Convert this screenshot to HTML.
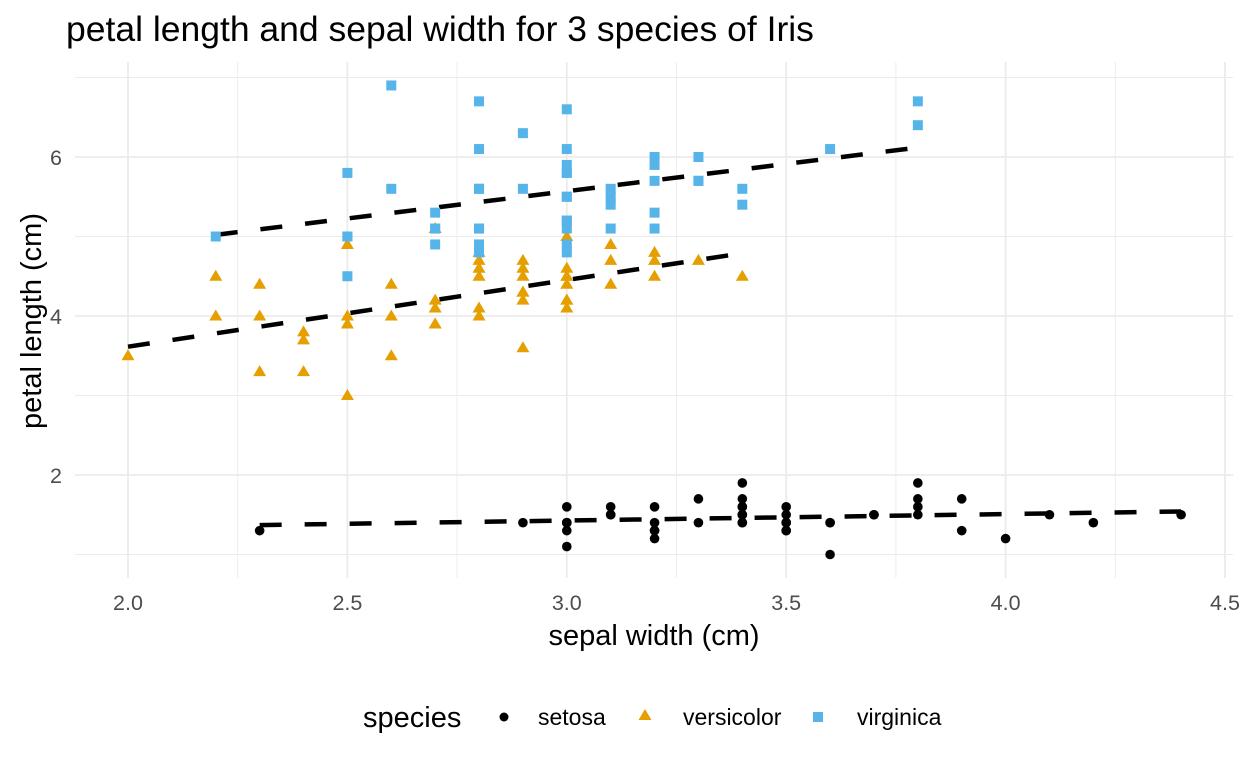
<!DOCTYPE html>
<html><head><meta charset="utf-8"><style>
body{margin:0;background:#fff;}
svg{display:block;font-family:"Liberation Sans",Arial,sans-serif;}
</style></head><body>
<svg id="chart" width="1248" height="768">
<rect width="1248" height="768" fill="#fff"/>
<text x="66" y="41" font-size="35.5" fill="#000">petal length and sepal width for 3 species of Iris</text>
<g id="grid"></g>
<g id="lines"></g>
<g id="points"></g>
<g id="axes"></g>
<text x="654" y="645" font-size="29" text-anchor="middle" fill="#000">sepal width (cm)</text>
<text transform="translate(41,321) rotate(-90)" font-size="29" text-anchor="middle" fill="#000">petal length (cm)</text>
<g>
<text x="363" y="727" font-size="29" fill="#000">species</text>
<g>
<circle cx="504" cy="717" r="4.5" fill="#000"/>
<text x="538" y="725" font-size="23" fill="#000">setosa</text></g>
<g>
<polygon points="645,709 651.5,720 638.5,720" fill="#E69F00"/>
<text x="683" y="725" font-size="23" fill="#000">versicolor</text></g>
<g>
<rect x="813" y="712" width="10" height="10" fill="#56B4E9"/>
<text x="857" y="725" font-size="23" fill="#000">virginica</text></g>
</g>
</svg>
<script>
const setosaX=[3.5,3.0,3.2,3.1,3.6,3.9,3.4,3.4,2.9,3.1,3.7,3.4,3.0,3.0,4.0,4.4,3.9,3.5,3.8,3.8,3.4,3.7,3.6,3.3,3.4,3.0,3.4,3.5,3.4,3.2,3.1,3.4,4.1,4.2,3.1,3.2,3.5,3.6,3.0,3.4,3.5,2.3,3.2,3.5,3.8,3.0,3.8,3.2,3.7,3.3];
const setosaY=[1.4,1.4,1.3,1.5,1.4,1.7,1.4,1.5,1.4,1.5,1.5,1.6,1.4,1.1,1.2,1.5,1.3,1.4,1.7,1.5,1.7,1.5,1.0,1.7,1.9,1.6,1.6,1.5,1.4,1.6,1.6,1.5,1.5,1.4,1.5,1.2,1.3,1.4,1.3,1.5,1.3,1.3,1.3,1.6,1.9,1.4,1.6,1.4,1.5,1.4];
const versicolorX=[3.2,3.2,3.1,2.3,2.8,2.8,3.3,2.4,2.9,2.7,2.0,3.0,2.2,2.9,2.9,3.1,3.0,2.7,2.2,2.5,3.2,2.8,2.5,2.8,2.9,3.0,2.8,3.0,2.9,2.6,2.4,2.4,2.7,2.7,3.0,3.4,3.1,2.3,3.0,2.5,2.6,3.0,2.6,2.3,2.7,3.0,2.9,2.9,2.5,2.8];
const versicolorY=[4.7,4.5,4.9,4.0,4.6,4.5,4.7,3.3,4.6,3.9,3.5,4.2,4.0,4.7,3.6,4.4,4.5,4.1,4.5,3.9,4.8,4.0,4.9,4.7,4.3,4.4,4.8,5.0,4.5,3.5,3.8,3.7,3.9,5.1,4.5,4.5,4.7,4.4,4.1,4.0,4.4,4.6,4.0,3.3,4.2,4.2,4.2,4.3,3.0,4.1];
const virginicaX=[3.3,2.7,3.0,2.9,3.0,3.0,2.5,2.9,2.5,3.6,3.2,2.7,3.0,2.5,2.8,3.2,3.0,3.8,2.6,2.2,3.2,2.8,2.8,2.7,3.3,3.2,2.8,3.0,2.8,3.0,2.8,3.8,2.8,2.8,2.6,3.0,3.4,3.1,3.0,3.1,3.1,3.1,2.7,3.2,3.3,3.0,2.5,3.0,3.4,3.0];
const virginicaY=[6.0,5.1,5.9,5.6,5.8,6.6,4.5,6.3,5.8,6.1,5.1,5.3,5.5,5.0,5.1,5.3,5.5,6.7,6.9,5.0,5.7,4.9,6.7,4.9,5.7,6.0,4.8,4.9,5.6,5.8,6.1,6.4,5.6,5.1,5.6,6.1,5.6,5.5,4.8,5.4,5.6,5.1,5.1,5.9,5.7,5.2,5.0,5.2,5.4,5.1];
const xTicks=[2.0,2.5,3.0,3.5,4.0,4.5];
const xTickLabels=["2.0","2.5","3.0","3.5","4.0","4.5"];
const yTicks=[2,4,6];
const yTickLabels=["2","4","6"];

const NS="http://www.w3.org/2000/svg";
const L=75,R=1233,T=62,B=578;
function sx(v){return 128+(v-2.0)*438.8;}
function sy(v){return 475-(v-2)*79.5;}
function mk(tag,attrs,parent){const e=document.createElementNS(NS,tag);for(const k in attrs)e.setAttribute(k,attrs[k]);parent.appendChild(e);return e;}
const grid=document.getElementById('grid'),axes=document.getElementById('axes'),pts=document.getElementById('points'),lines=document.getElementById('lines');
for(let i=0;i<xTicks.length-1;i++){const v=(xTicks[i]+xTicks[i+1])/2;
 const g=mk('line',{x1:sx(v),x2:sx(v),y1:T,y2:B,stroke:'#ebebeb','stroke-width':0.9},grid);
 
 }
[1,3,5,7].forEach(v=>{const g=mk('line',{x1:L,x2:R,y1:sy(v),y2:sy(v),stroke:'#ebebeb','stroke-width':0.9},grid);
 
 });
xTicks.forEach((v,i)=>{const g=mk('line',{x1:sx(v),x2:sx(v),y1:T,y2:B,stroke:'#ebebeb','stroke-width':1.8},grid);
 
 
 const t=mk('text',{x:sx(v),y:610,'font-size':21.5,'text-anchor':'middle',fill:'#4d4d4d'},axes);t.textContent=xTickLabels[i];
 
 });
yTicks.forEach((v,i)=>{const g=mk('line',{x1:L,x2:R,y1:sy(v),y2:sy(v),stroke:'#ebebeb','stroke-width':1.8},grid);
 
 
 const t=mk('text',{x:62,y:sy(v)+8,'font-size':21.5,'text-anchor':'end',fill:'#4d4d4d'},axes);t.textContent=yTickLabels[i];
 
 });
function fit(xs,ys){const n=xs.length;let mx=0,my=0;for(let i=0;i<n;i++){mx+=xs[i];my+=ys[i];}mx/=n;my/=n;let sxy=0,sxx=0;for(let i=0;i<n;i++){sxy+=(xs[i]-mx)*(ys[i]-my);sxx+=(xs[i]-mx)**2;}const b=sxy/sxx;return [my-b*mx,b];}
const series=[['setosa',setosaX,setosaY],['versicolor',versicolorX,versicolorY],['virginica',virginicaX,virginicaY]];
series.forEach(([name,xs,ys])=>{const [a,b]=fit(xs,ys);const x0=Math.min(...xs),x1=Math.max(...xs);
 const l=mk('line',{x1:sx(x0),y1:sy(a+b*x0),x2:sx(x1),y2:sy(a+b*x1),stroke:'#000','stroke-width':4.5,'stroke-dasharray':'22,23'},lines);
 
 
 xs.forEach((xv,i)=>{const cx=sx(xv),cy=sy(ys[i]);let p;
  if(name==='setosa')p=mk('circle',{cx:cx,cy:cy,r:4.8,fill:'#000'},pts);
  else if(name==='versicolor')p=mk('polygon',{points:`${cx},${cy-6.5} ${cx+6.5},${cy+4.5} ${cx-6.5},${cy+4.5}`,fill:'#E69F00'},pts);
  else p=mk('rect',{x:cx-5,y:cy-5,width:10,height:10,fill:'#56B4E9'},pts);
  
  });});
</script>
</body></html>
